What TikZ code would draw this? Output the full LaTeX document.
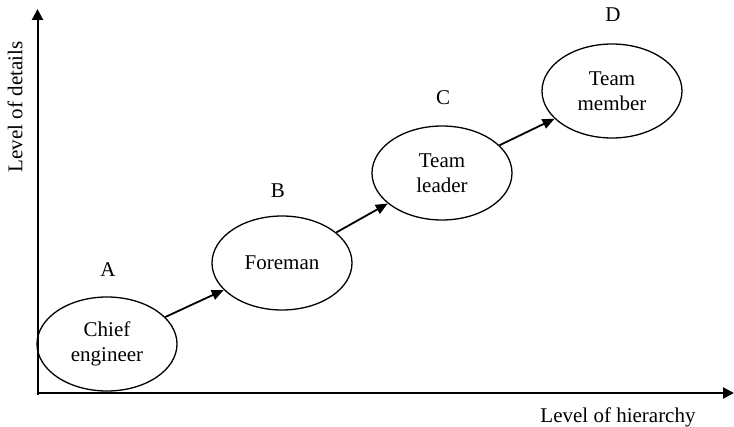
\documentclass[tikz,border=0pt]{standalone}
\usepackage{fontspec}
\setmainfont{Liberation Serif}
\usetikzlibrary{shapes.geometric,arrows.meta}
\begin{document}
\begin{tikzpicture}[x=0.5pt,y=-0.5pt,
  every node/.style={font=\fontsize{10.5}{12.5}\selectfont},
  role/.style={ellipse,draw,line width=0.65pt,minimum width=70pt,minimum height=47pt,
    inner sep=0pt,align=center},
  axis/.style={line width=1pt,-{Triangle[length=5.5pt,width=5.5pt]}},
  link/.style={line width=0.9pt,-{Triangle[length=6pt,width=5pt]}},
  tag/.style={inner sep=0pt}]
\useasboundingbox (0,0) rectangle (734,427);

% axes
\coordinate (origin) at (37.5,393);
\coordinate (ytop) at (37.5,9);
\coordinate (xend) at (734,393);
\draw[axis] ([yshift=-1pt]origin) -- (ytop);
\draw[axis] (origin) -- (xend);
\node[tag,rotate=90,anchor=base] (ylab) at (22.5,107) {Level of details};
\node[tag,anchor=base] (xlab) at (618,422.5) {Level of hierarchy};

% roles
\node[role] (chief) at (107,344) {Chief\\engineer};
\node[role] (fore) at (282,263) {Foreman};
\node[role] (lead) at (442,173) {Team\\leader};
\node[role] (memb) at (612,91) {Team\\member};

% level labels
\node[tag] (la) at (108,270) {A};
\node[tag] (lb) at (278,191) {B};
\node[tag] (lc) at (443,98) {C};
\node[tag] (ld) at (613,15) {D};

% connectors
\draw[link] (chief) -- (fore);
\draw[link] (fore) -- (lead);
\draw[link] (lead) -- (memb);
\end{tikzpicture}
\end{document}
